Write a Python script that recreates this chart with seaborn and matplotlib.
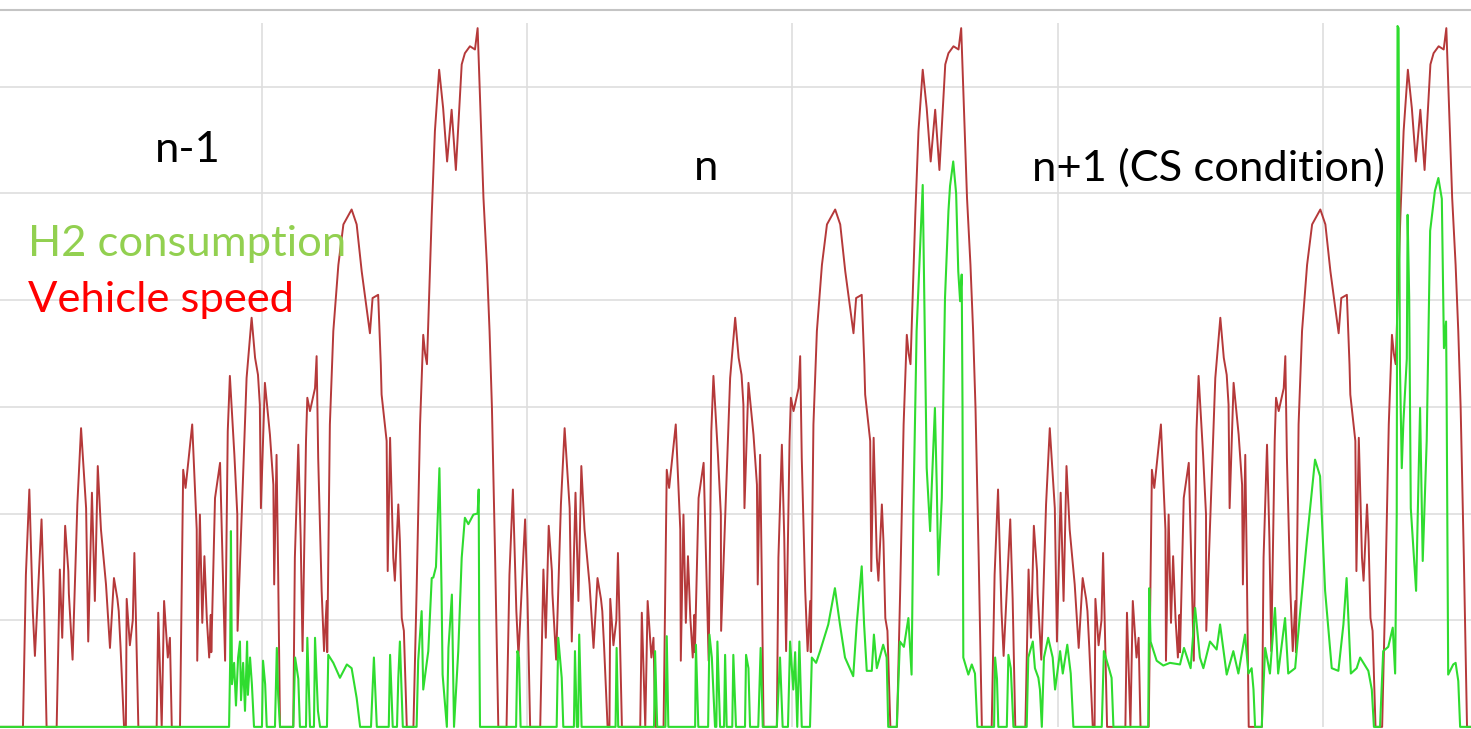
import numpy as np
import pandas as pd
import matplotlib
matplotlib.use("Agg")
import matplotlib.pyplot as plt
import seaborn as sns

# one driving cycle (s from cycle start, km/h), repeated three times
speed_t = [0, 11, 24, 37, 45, 70, 79, 89, 127, 139,
           148, 159, 171, 173, 187, 205, 219, 238, 246, 260,
           271, 282, 294, 313, 328, 343, 356, 361, 368, 381,
           388, 391, 403, 414, 420, 426, 435, 504, 510, 523,
           532, 546, 554, 561, 592, 604, 613, 627, 638, 655,
           657, 667, 676, 684, 693, 702, 708, 710, 724, 743,
           762, 772, 780, 797, 808, 809, 843, 862, 875, 886,
           893, 897, 912, 931, 944, 947, 956, 962, 969, 1019,
           1025, 1038, 1047, 1054, 1067, 1072, 1082, 1101, 1107, 1113,
           1120, 1126, 1135, 1145, 1147, 1157, 1170, 1189, 1208, 1239,
           1258, 1277, 1308, 1318, 1339, 1349, 1352, 1371, 1375, 1384,
           1396, 1402, 1415, 1421, 1428, 1436, 1447, 1472, 1484, 1497,
           1509, 1516, 1523, 1541, 1553, 1569, 1584, 1599, 1616, 1632,
           1654, 1666, 1685, 1704, 1714, 1723, 1736, 1749, 1759, 1768,
           1780, 1792]
speed_v = [0, 28.5, 44.5, 21.7, 13.3, 38.9, 24, 0, 0, 29.5,
           16.7, 37.7, 29.2, 25, 12.6, 41.7, 56, 41, 16, 43.9,
           23.6, 48.9, 37, 26.7, 14.8, 27.9, 24, 21.7, 14.8, 0,
           0, 24, 15.3, 20, 32.6, 20, 0, 0, 21.4, 0,
           23.6, 13, 16.7, 0, 0, 48.2, 44.8, 51.5, 56.7, 37,
           12.4, 39.8, 19.5, 32, 20.4, 13, 21, 14, 42.9, 49.5,
           12.4, 55.4, 65.8, 51, 39.8, 18, 65.4, 76.7, 69.2, 66,
           60.4, 41, 64.5, 54.8, 45.4, 26.7, 51, 29.2, 0, 0,
           31.7, 52.9, 35.4, 14.2, 53.6, 61.7, 59.2, 63.5, 69.5, 50.4,
           36.7, 25.5, 14.2, 23.6, 14, 56.7, 74.2, 86.6, 94.2, 97,
           94.2, 85.4, 73.8, 80.4, 81, 67.9, 62.3, 53.6, 29.2, 54.2,
           31.7, 27.4, 41.7, 34.8, 20.4, 18, 0, 0, 25.5, 56.7,
           73.5, 70, 68, 96, 111.7, 123.2, 116, 106, 115.7, 104.4,
           124.2, 126.3, 127.6, 127, 131, 117.9, 99.2, 86.6, 74.2, 59.8,
           31.7, 0]
cycle_start = [99, 1922, 3751]

# H2 consumption, absolute test time (s)
h2_t_n1 = [12, 876, 880, 883, 887, 895, 902, 910, 917, 921,
           929, 936, 944, 947, 955, 962, 970, 1000, 1004, 1012,
           1018, 1049, 1056, 1061, 1068, 1118, 1125, 1137, 1143, 1166,
           1171, 1181, 1196, 1200, 1211, 1219, 1245, 1250, 1269, 1294,
           1320, 1338, 1357, 1370, 1411, 1422, 1433, 1478, 1483, 1493,
           1509, 1514, 1520, 1531, 1583, 1589, 1602, 1608, 1627, 1640,
           1646, 1656, 1669, 1677, 1681, 1697, 1703, 1716, 1724, 1732,
           1740, 1753, 1765, 1778, 1797, 1813, 1817, 1819, 1822]
h2_v_n1 = [0, 0, 12, 36.7, 8, 12, 4, 13, 16, 5,
           12, 3, 16, 6, 13, 8, 0, 0, 12.4, 8,
           0, 0, 14.8, 6, 0, 0, 13, 9, 0, 0,
           16.7, 0, 0, 16.7, 3, 0, 0, 13.5, 12, 9.2,
           11.7, 11, 5.4, 0, 0, 13, 0, 0, 13.5, 0,
           0, 9.2, 16, 0, 0, 12.4, 21.7, 7, 14.2, 27.9,
           28, 30, 48.5, 25.5, 9.8, 0, 14.8, 24.8, 0, 7,
           14.2, 31.7, 39.2, 38, 39.8, 40, 44.5, 19.2, 0]

h2_t_n = [1958, 1963, 1969, 1975, 2111, 2117, 2130, 2136, 2176, 2180,
          2187, 2192, 2196, 2205, 2333, 2337, 2343, 2478, 2482, 2490,
          2521, 2526, 2532, 2633, 2636, 2645, 2682, 2687, 2696, 2708,
          2713, 2717, 2727, 2742, 2746, 2752, 2773, 2777, 2787, 2821,
          2825, 2834, 2840, 2871, 2880, 2888, 2941, 2953, 2963, 2983,
          2991, 3003, 3010, 3018, 3026, 3035, 3066, 3073, 3089, 3104,
          3135, 3160, 3179, 3198, 3229, 3242, 3261, 3270, 3280, 3299,
          3307, 3318, 3342, 3355, 3361, 3393, 3405, 3420, 3437, 3449,
          3456, 3468, 3491, 3500, 3506, 3519, 3525, 3537, 3544, 3550,
          3563, 3571, 3575, 3588, 3594, 3606, 3617, 3625, 3632, 3638,
          3641, 3644, 3663, 3676, 3688, 3697]
h2_v_n = [0, 14.2, 13, 0, 0, 16.7, 9.2, 0, 0, 14.2,
          0, 0, 17.3, 0, 0, 14.8, 0, 0, 14.2, 0,
          0, 17, 0, 0, 15.4, 0, 0, 17.3, 13, 0,
          0, 16, 0, 0, 13.5, 0, 0, 13.5, 0, 0,
          13.5, 11, 0, 0, 14.8, 0, 0, 13, 0, 0,
          16, 7, 14, 0, 16, 0, 0, 13, 12, 14.2,
          19.2, 26, 19.2, 13, 9.5, 19.2, 30.1, 19.2, 10.5, 10.5,
          17.3, 11, 15.4, 13, 0, 0, 16, 15, 20.4, 9.8,
          41, 74.2, 101.6, 69.2, 48.5, 36.7, 45, 59.8, 45, 28.5,
          42.9, 69, 80.4, 96.7, 101.4, 106, 100, 85.4, 79.8, 84.8,
          60, 13, 9.8, 11.7, 10, 0]

h2_t_n1p = [3760, 3764, 3771, 3776, 3808, 3814, 3823, 3833, 3883, 3889,
            3906, 3914, 3927, 3933, 3940, 3948, 3964, 3981, 3990, 4009,
            4019, 4036, 4049, 4059, 4166, 4174, 4193, 4203, 4210, 4341,
            4345, 4350, 4373, 4398, 4423, 4461, 4476, 4501, 4518, 4536,
            4549, 4574, 4599, 4612, 4637, 4662, 4681, 4706, 4719, 4731,
            4738, 4744, 4769, 4782, 4800, 4819, 4831, 4857, 4869, 4895,
            4913, 4939, 4970, 4989, 5008, 5033, 5058, 5077, 5089, 5105,
            5127, 5140, 5171, 5184, 5192, 5215, 5227, 5246, 5263, 5272,
            5278, 5281, 5285, 5290, 5297, 5303, 5316, 5319, 5325, 5331,
            5351, 5366, 5376, 5391, 5404, 5422, 5435, 5448, 5456, 5464,
            5466, 5472, 5491, 5500, 5510, 5517, 5558]
h2_v_n1p = [0, 13, 9, 0, 0, 13.5, 11, 0, 0, 13,
            16, 11, 9.2, 7, 0, 13, 16.7, 13, 7, 14.2,
            10, 15.4, 10, 0, 0, 14.2, 11, 9.2, 0, 0,
            26, 16, 12.4, 11.5, 12, 11.7, 14.8, 11, 22.3, 13,
            11, 16, 14.5, 19.2, 9.8, 14.2, 10, 17.3, 10, 11,
            7, 0, 0, 14.8, 10, 22.3, 10, 20.4, 10, 11,
            21, 34.8, 50.1, 47, 25.5, 11, 10.5, 19.2, 27.9, 10,
            11, 13, 10.5, 7, 0, 0, 14.2, 15, 18.6, 10,
            40, 131.4, 131, 68, 48.5, 57, 69, 96, 80.4, 41,
            25.5, 59.8, 31.1, 53.6, 93, 100.5, 102.9, 99, 71, 76,
            63, 9.8, 11.7, 12, 8.6, 0, 0]

labels = ["n-1", "n", "n+1 (CS condition)"]

# build the long series
t_all = [12]
v_all = [0]
for s in cycle_start:
    t_all += [s + t for t in speed_t]
    v_all += speed_v
t_all.append(5558)
v_all.append(0)
speed = pd.DataFrame({"t": t_all, "v": v_all})
h2 = pd.DataFrame({"t": h2_t_n1 + h2_t_n + h2_t_n1p,
                   "v": h2_v_n1 + h2_v_n + h2_v_n1p})

sns.set_theme(style="white")
plt.rcParams["font.family"] = ["Lato", "DejaVu Sans"]

fig = plt.figure(figsize=(14.71, 7.29), dpi=100)
ax = fig.add_axes([0, 0, 1, 719 / 729])

ax.hlines(range(20, 121, 20), 12, 5558, color="#dedede", lw=1.2, zorder=0)
ax.vlines(range(1000, 5001, 1000), 0, 132, color="#dedede", lw=1.2, zorder=0)

sns.lineplot(data=speed, x="t", y="v", color="#b5393a", lw=1.4,
             estimator=None, sort=False, ax=ax)
sns.lineplot(data=h2, x="t", y="v", color="#2fdc2f", lw=1.5,
             estimator=None, sort=False, ax=ax)

ax.set_xlim(12.4, 5558)
ax.set_ylim(-0.4, 134.4)
ax.set_xticks([])
ax.set_yticks([])
ax.set_xlabel("")
ax.set_ylabel("")
for side in ["left", "right", "bottom"]:
    ax.spines[side].set_visible(False)
ax.spines["top"].set_color("#c4c4c4")
ax.spines["top"].set_linewidth(1.5)

W, H = 1471, 729
fs = 31.3
fig.text(188 / W, 1 - 150 / H, labels[0], ha="center", va="center", fontsize=fs, color="black")
fig.text(706 / W, 1 - 168 / H, labels[1], ha="center", va="center", fontsize=fs, color="black")
fig.text(1032 / W, 1 - 168 / H, labels[2], ha="left", va="center", fontsize=fs, color="black")
fig.text(28 / W, 1 - 244 / H, "H2 consumption", ha="left", va="center", fontsize=fs, color="#92d050")
fig.text(28 / W, 1 - 300 / H, "Vehicle speed", ha="left", va="center", fontsize=fs, color="#ff0000")

fig.savefig("out.png", dpi=100)
